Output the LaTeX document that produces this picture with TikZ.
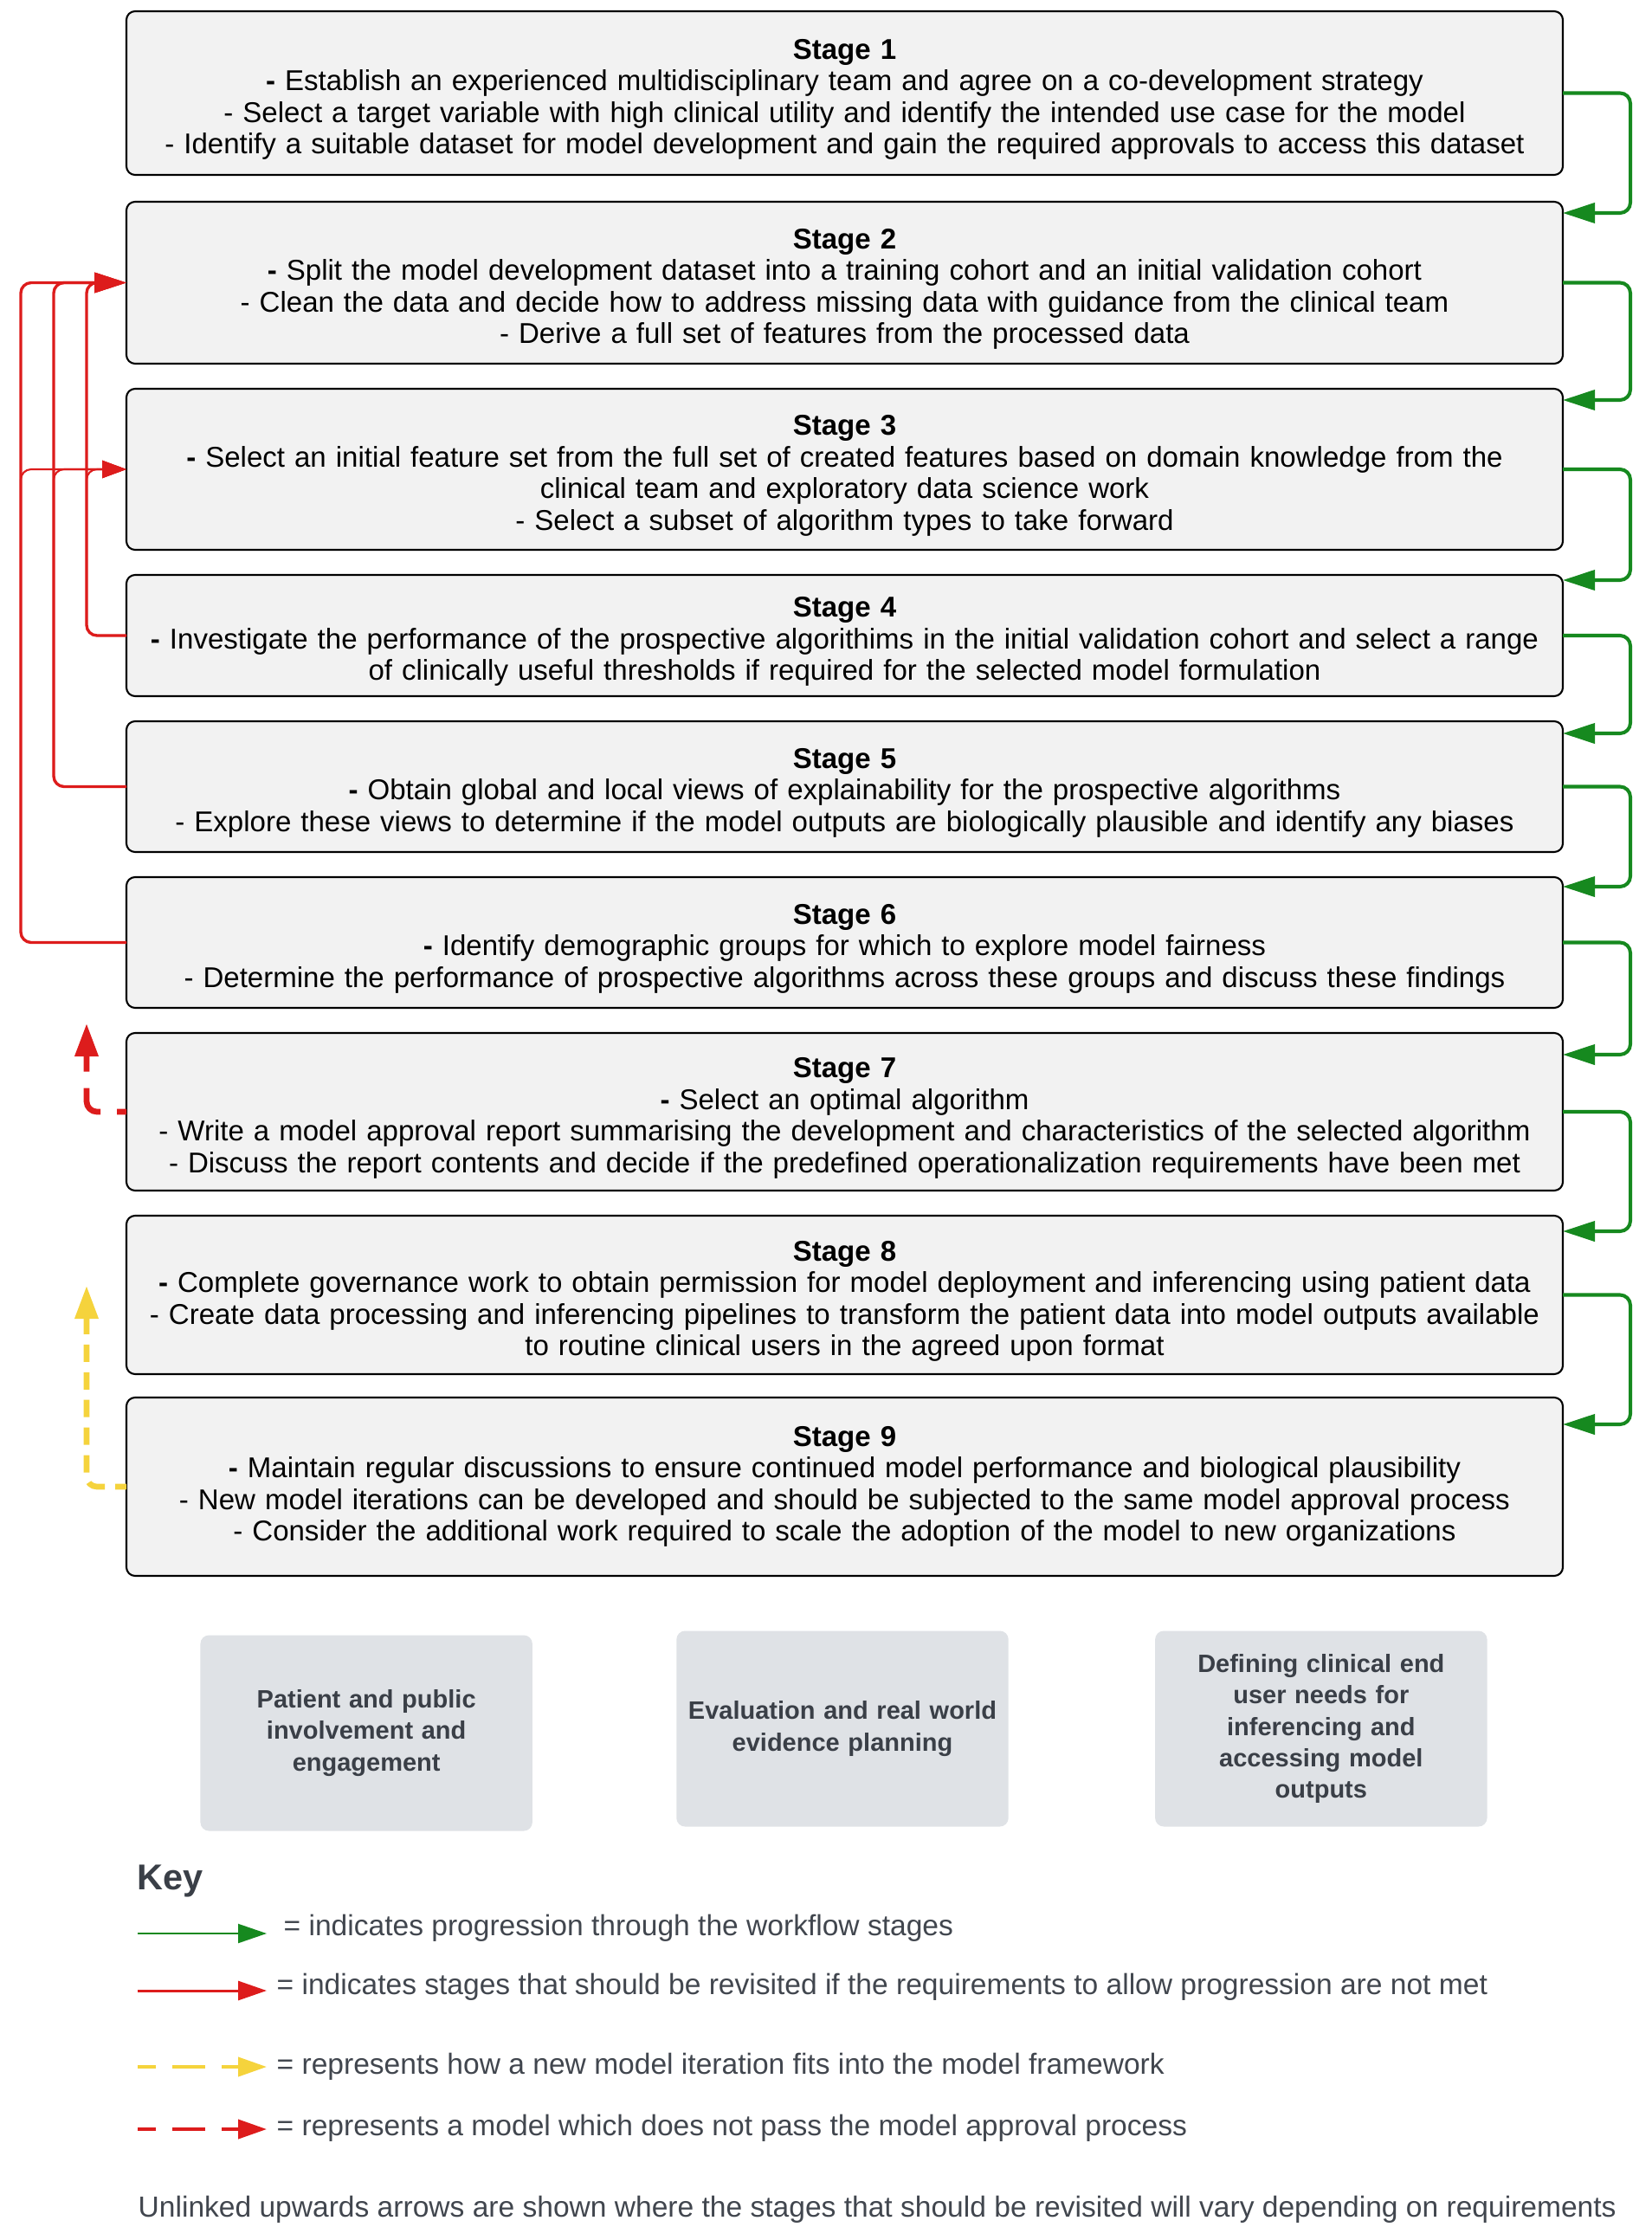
\documentclass[tikz,border=0pt]{standalone}
\usepackage{fontspec}
\setmainfont{Liberation Sans}
\usetikzlibrary{arrows.meta,positioning}
\usetikzlibrary{calc}
\definecolor{flow_green}{HTML}{16891F}
\definecolor{flow_red}{HTML}{DD1C1C}
\definecolor{flow_yellow}{HTML}{F5D33C}
\definecolor{stage_grey}{HTML}{F2F2F2}
\definecolor{side_grey}{HTML}{DFE2E6}
\definecolor{slate}{HTML}{3A3F47}
\definecolor{key_grey}{HTML}{41464E}
\newcommand{\stagetitle}[1]{\rule{0pt}{10.7pt}\textbf{Stage #1}}

\begin{document}
\begin{tikzpicture}[
        stagebox/.style={rectangle, rounded corners=0.1cm, draw, line width=0.6pt, fill=stage_grey, minimum width=16.59cm, text width=16.5cm, inner sep=0pt, outer sep=0pt, align=center, font=\fontsize{9.4}{10.4}\selectfont},
        sidebox/.style={rectangle, rounded corners=0.1cm, fill=side_grey, minimum width=3.79cm, minimum height=2.26cm, text width=3.6cm, align=center, text=slate, font=\fontsize{8.25}{10.3}\selectfont\bfseries},
        keytext/.style={anchor=west, inner sep=0pt, text=key_grey, font=\fontsize{9.55}{11}\selectfont},
        progline/.style={draw=flow_green, line width=1.15pt, rounded corners=0.12cm, -{Triangle[length=0.37cm, width=0.23cm]}},
        revisitline/.style={draw=flow_red, line width=0.95pt, rounded corners=0.12cm, -{Triangle[length=0.37cm, width=0.23cm]}},
        branchline/.style={revisitline, line width=0.6pt, -{Triangle[length=0.28cm, width=0.2cm]}},
        failline/.style={draw=flow_red, line width=1.9pt, dash pattern=on 0.38cm off 0.19cm, dash phase=0.27cm, rounded corners=0.12cm, -{Triangle[length=0.38cm, width=0.26cm]}},
        iterline/.style={draw=flow_yellow, line width=1.9pt, dash pattern=on 0.2cm off 0.12cm, dash phase=0.07cm, rounded corners=0.12cm, -{Triangle[length=0.38cm, width=0.26cm]}},
    ]
        \fill[white] (0,0) rectangle (19.07,-25.87);
        \useasboundingbox (0,0) rectangle (19.07,-25.87);

        % workflow stages
        \node[stagebox, minimum height=1.89cm] (s1) at (9.755,-1.075) {\stagetitle{1}\\\textbf{-} Establish an experienced multidisciplinary team and agree on a co-development strategy\\- Select a target variable with high clinical utility and identify the intended use case for the model\\- Identify a suitable dataset for model development and gain the required approvals to access this dataset};
        \node[stagebox, minimum height=1.87cm, below=0.31cm of s1] (s2) {\stagetitle{2}\\\textbf{-} Split the model development dataset into a training cohort and an initial validation cohort\\- Clean the data and decide how to address missing data with guidance from the clinical team\\- Derive a full set of features from the processed data};
        \node[stagebox, minimum height=1.86cm, below=0.29cm of s2] (s3) {\stagetitle{3}\\\textbf{-} Select an initial feature set from the full set of created features based on domain knowledge from the\\clinical team and exploratory data science work\\- Select a subset of algorithm types to take forward};
        \node[stagebox, minimum height=1.40cm, below=0.29cm of s3] (s4) {\stagetitle{4}\\\textbf{-} Investigate the performance of the prospective algorithims in the initial validation cohort and select a range\\of clinically useful thresholds if required for the selected model formulation};
        \node[stagebox, minimum height=1.51cm, below=0.29cm of s4] (s5) {\stagetitle{5}\\\textbf{-} Obtain global and local views of explainability for the prospective algorithms\\- Explore these views to determine if the model outputs are biologically plausible and identify any biases};
        \node[stagebox, minimum height=1.51cm, below=0.29cm of s5] (s6) {\stagetitle{6}\\\textbf{-} Identify demographic groups for which to explore model fairness\\- Determine the performance of prospective algorithms across these groups and discuss these findings};
        \node[stagebox, minimum height=1.82cm, below=0.29cm of s6] (s7) {\stagetitle{7}\\\textbf{-} Select an optimal algorithm\\- Write a model approval report summarising the development and characteristics of the selected algorithm\\- Discuss the report contents and decide if the predefined operationalization requirements have been met};
        \node[stagebox, minimum height=1.83cm, below=0.29cm of s7] (s8) {\stagetitle{8}\\\textbf{-} Complete governance work to obtain permission for model deployment and inferencing using patient data\\- Create data processing and inferencing pipelines to transform the patient data into model outputs available\\to routine clinical users in the agreed upon format};
        \node[stagebox, minimum height=2.06cm, below=0.27cm of s8] (s9) {\textbf{Stage 9}\\\textbf{-} Maintain regular discussions to ensure continued model performance and biological plausibility\\- New model iterations can be developed and should be subjected to the same model approval process\\- Consider the additional work required to scale the adoption of the model to new organizations};

        % supporting activities
        \node[sidebox] (evid) at (9.73,-19.965) {Evaluation and real world\\evidence planning};
        \node[sidebox, left=1.65cm of evid, yshift=-0.05cm] (ppi) {Patient and public\\involvement and\\engagement};
        \node[sidebox, right=1.68cm of evid] (needs) {Defining clinical end\\user needs for\\inferencing and\\accessing model\\outputs};

        % progression
        \foreach \a/\b/\d in {s1/s2/0.13, s2/s3/0.13, s3/s4/0.06, s4/s5/0.14, s5/s6/0.11, s6/s7/0.25, s7/s8/0.18, s8/s9/0.31}
            \draw[progline] (\a.east) -- ++(0.78,0) |- ($(\b.north east)+(0,-\d)$);

        % revisit
        \foreach \s/\x in {s4/1.00, s5/0.62, s6/0.24} {
            \draw[revisitline] (\s.west) -- (\x,0 |- \s.west) |- (s2.west);
            \draw[branchline] (\s.west) -- (\x,0 |- \s.west) |- (s3.west);
        }

        \coordinate (failtip) at (1.00,-11.82);
        \draw[failline] (s7.west) -- (failtip |- s7.west) -- (failtip);
        \coordinate (itertip) at (1.00,-14.85);
        \draw[iterline] (s9.west) -- (itertip |- s9.west) -- (itertip);

        % key
        \node[anchor=west, inner sep=0pt, text=slate, font=\fontsize{11.8}{14}\selectfont\bfseries] (keytitle) at (1.58,-21.73) {Key};

        \coordinate (k1a) at (1.59,-22.33); \coordinate (k1b) at (3.08,-22.33);
        \coordinate (k2a) at (1.59,-22.99); \coordinate (k2b) at (3.08,-22.99);
        \coordinate (k3a) at (1.59,-23.87); \coordinate (k3b) at (3.08,-23.87);
        \coordinate (k4a) at (1.59,-24.59); \coordinate (k4b) at (3.08,-24.59);
        \draw[progline, line width=0.6pt, -{Triangle[length=0.33cm, width=0.22cm]}] (k1a) -- (k1b);
        \draw[revisitline, line width=0.85pt, -{Triangle[length=0.33cm, width=0.22cm]}] (k2a) -- (k2b);
        \draw[iterline, line width=1.1pt, dash pattern=on 0.38cm off 0.19cm, dash phase=0.17cm, -{Triangle[length=0.33cm, width=0.22cm]}] (k3a) -- (k3b);
        \draw[failline, line width=1.1pt, dash phase=0.17cm, -{Triangle[length=0.33cm, width=0.22cm]}] (k4a) -- (k4b);

        \node[keytext] (key1) at (3.27,-22.27) {= indicates progression through the workflow stages};
        \node[keytext] (key2) at (3.19,-22.95) {= indicates stages that should be revisited if the requirements to allow progression are not met};
        \node[keytext] (key3) at (3.19,-23.87) {= represents how a new model iteration fits into the model framework};
        \node[keytext] (key4) at (3.19,-24.58) {= represents a model which does not pass the model approval process};

        \node[keytext] (note) at (1.59,-25.52) {Unlinked upwards arrows are shown where the stages that should be revisited will vary depending on requirements};
\end{tikzpicture}
\end{document}
